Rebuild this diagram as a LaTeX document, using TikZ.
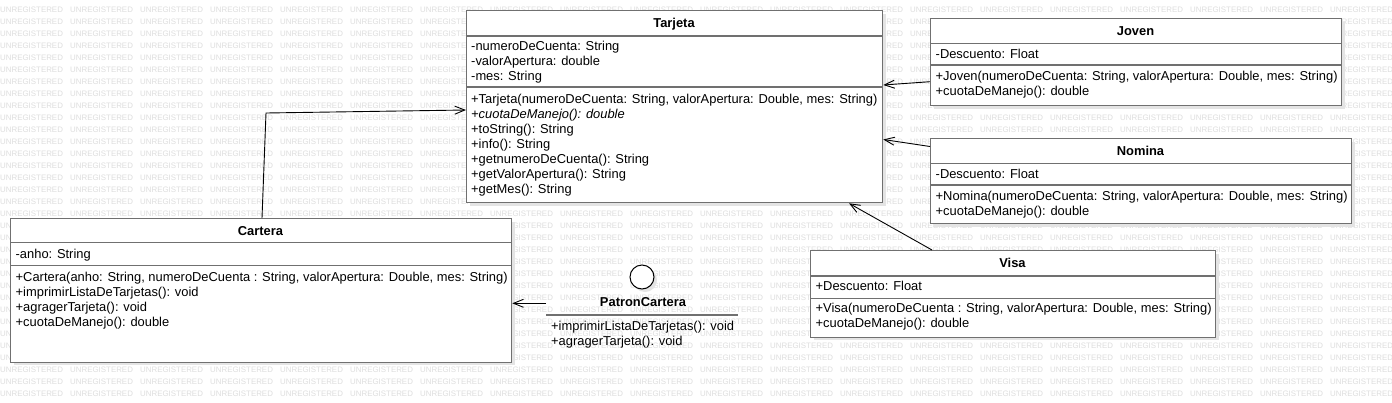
\documentclass[tikz,border=0pt]{standalone}
\usepackage{fontspec}
\setmainfont{Liberation Sans}
\usetikzlibrary{arrows.meta,shadows}
\definecolor{bordercol}{RGB}{112,112,112}
\definecolor{wmcol}{RGB}{222,222,222}
\definecolor{shcol}{RGB}{228,228,228}
\begin{document}
\begin{tikzpicture}[x=1pt,y=-1pt,
  wm/.style={font=\fontsize{7.9}{8}\selectfont, text=wmcol, anchor=west, inner sep=0},
  classbox/.style={draw=bordercol, line width=1.3pt, fill=white, inner sep=0, anchor=north west,
    drop shadow={shadow xshift=3pt, shadow yshift=-3pt, fill=shcol, opacity=1}},
  sep/.style={draw=bordercol, line width=1.3pt},
  ctitle/.style={font=\fontsize{12.9}{15}\selectfont\bfseries, anchor=base, inner sep=0},
  crow/.style={font=\fontsize{12.9}{15}\selectfont, anchor=base west, inner sep=0},
  arr/.style={draw=black, line width=0.9pt, -{Straight Barb[length=10pt,width=8pt]}}
]
\useasboundingbox[fill=white] (0,0) rectangle (1392,402);

% watermark
\foreach \r in {0,...,32}
  \foreach \c in {0,...,19}
    \node[wm] (wm-\r-\c) at (70*\c, 9.3+12*\r) {UNREGISTERED};

% ---------- Tarjeta ----------
\node[classbox, minimum width=416pt, minimum height=192pt] (tarjeta) at (466,10) {};
\draw[sep] (tarjeta.west |- 0,36) -- (tarjeta.east |- 0,36);
\draw[sep] (tarjeta.west |- 0,87) -- (tarjeta.east |- 0,87);
\node[ctitle] (tarjeta-t) at (674,27.3) {Tarjeta};
\node[crow] (tarjeta-a1) at (471,50) {-numeroDeCuenta: String};
\node[crow] (tarjeta-a2) at (471,65) {-valorApertura: double};
\node[crow] (tarjeta-a3) at (471,80) {-mes: String};
\node[crow] (tarjeta-m1) at (471,103) {+Tarjeta(numeroDeCuenta: String, valorApertura: Double, mes: String)};
\node[crow] (tarjeta-m2) at (471,118) {\itshape +cuotaDeManejo(): double};
\node[crow] (tarjeta-m3) at (471,133) {+toString(): String};
\node[crow] (tarjeta-m4) at (471,148) {+info(): String};
\node[crow] (tarjeta-m5) at (471,163) {+getnumeroDeCuenta(): String};
\node[crow] (tarjeta-m6) at (471,178) {+getValorApertura(): String};
\node[crow] (tarjeta-m7) at (471,193) {+getMes(): String};

% ---------- Joven ----------
\node[classbox, minimum width=411pt, minimum height=87pt] (joven) at (930,18) {};
\draw[sep] (joven.west |- 0,43.3) -- (joven.east |- 0,43.3);
\draw[sep] (joven.west |- 0,65) -- (joven.east |- 0,65);
\node[ctitle] (joven-t) at (1135.5,35) {Joven};
\node[crow] (joven-a1) at (935.5,58) {-Descuento: Float};
\node[crow] (joven-m1) at (935.5,80) {+Joven(numeroDeCuenta: String, valorApertura: Double, mes: String)};
\node[crow] (joven-m2) at (935.5,95) {+cuotaDeManejo(): double};

% ---------- Nomina ----------
\node[classbox, minimum width=421pt, minimum height=85pt] (nomina) at (930,138) {};
\draw[sep] (nomina.west |- 0,163.3) -- (nomina.east |- 0,163.3);
\draw[sep] (nomina.west |- 0,185) -- (nomina.east |- 0,185);
\node[ctitle] (nomina-t) at (1140.5,155) {Nomina};
\node[crow] (nomina-a1) at (935.5,178.3) {-Descuento: Float};
\node[crow] (nomina-m1) at (935.5,200) {+Nomina(numeroDeCuenta: String, valorApertura: Double, mes: String)};
\node[crow] (nomina-m2) at (935.5,215) {+cuotaDeManejo(): double};

% ---------- Visa ----------
\node[classbox, minimum width=405pt, minimum height=86.5pt] (visa) at (810,250) {};
\draw[sep] (visa.west |- 0,276) -- (visa.east |- 0,276);
\draw[sep] (visa.west |- 0,298.3) -- (visa.east |- 0,298.3);
\node[ctitle] (visa-t) at (1012.5,267.7) {Visa};
\node[crow] (visa-a1) at (815.5,290.3) {+Descuento: Float};
\node[crow] (visa-m1) at (815.5,312.7) {+Visa(numeroDeCuenta : String, valorApertura: Double, mes: String)};
\node[crow] (visa-m2) at (815.5,327.7) {+cuotaDeManejo(): double};

% ---------- Cartera ----------
\node[classbox, minimum width=501pt, minimum height=143.5pt] (cartera) at (10,218) {};
\draw[sep] (cartera.west |- 0,242.7) -- (cartera.east |- 0,242.7);
\draw[sep] (cartera.west |- 0,265.7) -- (cartera.east |- 0,265.7);
\node[ctitle] (cartera-t) at (260.5,235) {Cartera};
\node[crow] (cartera-a1) at (15.5,258.3) {-anho: String};
\node[crow] (cartera-m1) at (15.5,281.7) {+Cartera(anho: String, numeroDeCuenta : String, valorApertura: Double, mes: String)};
\node[crow] (cartera-m2) at (15.5,296.7) {+imprimirListaDeTarjetas(): void};
\node[crow] (cartera-m3) at (15.5,311.7) {+agragerTarjeta(): void};
\node[crow] (cartera-m4) at (15.5,326.7) {+cuotaDeManejo(): double};

% ---------- PatronCartera (interface) ----------
\node[circle, draw=black, line width=1pt, fill=white, minimum size=24pt, inner sep=0,
  drop shadow={shadow xshift=3pt, shadow yshift=-3pt, fill=shcol, opacity=1}] (pc-circle) at (642,277) {};
\node[inner sep=0, minimum width=192pt, minimum height=52pt, anchor=north west] (patron) at (546,296) {};
\node[ctitle] (pc-t) at (643,306.7) {PatronCartera};
\draw[sep] (patron.west |- 0,315) -- (patron.east |- 0,315);
\node[crow] (pc-m1) at (551,330.5) {+imprimirListaDeTarjetas(): void};
\node[crow] (pc-m2) at (551,345) {+agragerTarjeta(): void};

% ---------- connectors ----------
\draw[arr] (joven.west |- 0,81.7) -- (tarjeta.east |- 0,85);
\draw[arr] (nomina.west |- 0,146.5) -- (tarjeta.east |- 0,139.5);
\draw[arr] (visa.north -| 932,0) -- (tarjeta.south -| 849,0);
\draw[arr] (cartera.north -| 262,0) -- (266,113) -- (tarjeta.west |- 0,110);
\draw[arr] (patron.west |- 0,303.3) -- (cartera.east |- 0,303.3);
\end{tikzpicture}
\end{document}
